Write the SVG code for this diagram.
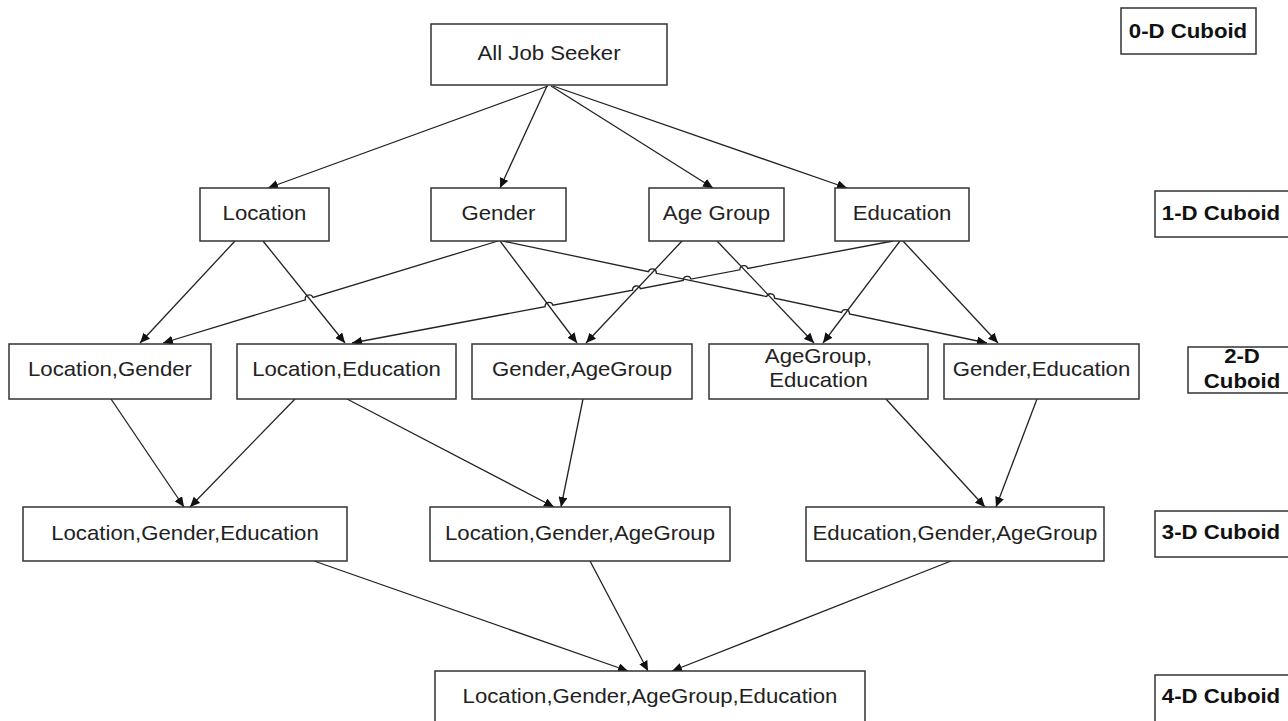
<svg xmlns="http://www.w3.org/2000/svg" width="1288" height="721" viewBox="0 0 1288 721">
  <style>
    .box { fill: #ffffff; stroke: #333333; stroke-width: 1.5; }
    .lbl { font-family: "Liberation Sans", Arial, sans-serif; font-size: 20px; fill: #222222; text-anchor: middle; }
    .cub { font-family: "Liberation Sans", Arial, sans-serif; font-size: 20px; font-weight: bold; fill: #111111; text-anchor: middle; }
    .edge { fill: none; stroke: #222222; stroke-width: 1.3; marker-end: url(#arr); }
  </style>
  <defs>
    <marker id="arr" markerWidth="11" markerHeight="9" refX="10" refY="4.5" orient="auto" markerUnits="userSpaceOnUse">
      <path d="M0,0 L10,4.5 L0,9 z" fill="#111111"/>
    </marker>
  </defs>
  <rect width="1288" height="721" fill="#ffffff"/>

  <!-- connectors (line jumps drawn as small arcs where lines cross) -->
  <g id="connectors">
    <!-- apex to 1-D -->
    <path class="edge" d="M548,86 L268,188"/>
    <path class="edge" d="M547,86 L500,188"/>
    <path class="edge" d="M551,86 L713,188"/>
    <path class="edge" d="M553,86 L847,188"/>
    <!-- 1-D to 2-D -->
    <path class="edge" d="M235,241 L140,343"/>
    <path class="edge" d="M263,241 L345,343"/>
    <path class="edge" d="M498,241 L313.0,297.4 A4,4 0 0 0 305.4,299.8 L163,343"/>
    <path class="edge" d="M500,241 L577,343"/>
    <path class="edge" d="M503,241 L648.5,271.7 A4,4 0 0 1 656.3,273.3 L766.7,296.6 A4,4 0 0 1 774.5,298.2 L841.6,312.4 A4,4 0 0 1 849.4,314.0 L987,343"/>
    <path class="edge" d="M682,241 L586,343"/>
    <path class="edge" d="M717,241 L814,343"/>
    <path class="edge" d="M893,241 L747.7,268.4 A4,4 0 0 0 739.9,269.8 L691.0,279.1 A4,4 0 0 0 683.2,280.5 L640.4,288.7 A4,4 0 0 0 632.6,290.1 L552.9,305.2 A4,4 0 0 0 545.1,306.6 L352,343"/>
    <path class="edge" d="M900,241 L823,343"/>
    <path class="edge" d="M903,241 L998,343"/>
    <!-- 2-D to 3-D -->
    <path class="edge" d="M111,399 L184,507"/>
    <path class="edge" d="M295,399 L190,507"/>
    <path class="edge" d="M347,399 L554,507"/>
    <path class="edge" d="M583,399 L561,507"/>
    <path class="edge" d="M886,399 L985,507"/>
    <path class="edge" d="M1037,399 L996,507"/>
    <!-- 3-D to 4-D -->
    <path class="edge" d="M314,561 L628,671"/>
    <path class="edge" d="M590,561 L648,671"/>
    <path class="edge" d="M951,561 L672,671"/>
  </g>

  <!-- apex -->
  <g id="all-job-seeker">
    <rect class="box" x="431" y="24" width="236" height="61"/>
    <text class="lbl" transform="translate(549 60) scale(1.11 1)">All Job Seeker</text>
  </g>

  <!-- 1-D cuboids -->
  <g id="location">
    <rect class="box" x="200" y="188" width="129" height="53"/>
    <text class="lbl" transform="translate(264.5 220) scale(1.11 1)">Location</text>
  </g>
  <g id="gender">
    <rect class="box" x="431" y="188" width="135" height="53"/>
    <text class="lbl" transform="translate(498.5 220) scale(1.11 1)">Gender</text>
  </g>
  <g id="age-group">
    <rect class="box" x="649" y="188" width="135" height="53"/>
    <text class="lbl" transform="translate(716.5 220) scale(1.11 1)">Age Group</text>
  </g>
  <g id="education">
    <rect class="box" x="835" y="188" width="134" height="53"/>
    <text class="lbl" transform="translate(902 220) scale(1.11 1)">Education</text>
  </g>

  <!-- 2-D cuboids -->
  <g id="location-gender">
    <rect class="box" x="9" y="344" width="202" height="55"/>
    <text class="lbl" transform="translate(110 376) scale(1.11 1)">Location,Gender</text>
  </g>
  <g id="location-education">
    <rect class="box" x="237" y="344" width="219" height="55"/>
    <text class="lbl" transform="translate(346.5 376) scale(1.11 1)">Location,Education</text>
  </g>
  <g id="gender-agegroup">
    <rect class="box" x="472" y="344" width="220" height="55"/>
    <text class="lbl" transform="translate(582 376) scale(1.11 1)">Gender,AgeGroup</text>
  </g>
  <g id="agegroup-education">
    <rect class="box" x="709" y="344" width="219" height="55"/>
    <text class="lbl" transform="translate(818.5 363) scale(1.11 1)">AgeGroup,</text>
    <text class="lbl" transform="translate(818.5 387) scale(1.11 1)">Education</text>
  </g>
  <g id="gender-education">
    <rect class="box" x="944" y="344" width="195" height="55"/>
    <text class="lbl" transform="translate(1041.5 376) scale(1.11 1)">Gender,Education</text>
  </g>

  <!-- 3-D cuboids -->
  <g id="location-gender-education">
    <rect class="box" x="23" y="507" width="324" height="54"/>
    <text class="lbl" transform="translate(185 540) scale(1.11 1)">Location,Gender,Education</text>
  </g>
  <g id="location-gender-agegroup">
    <rect class="box" x="430" y="507" width="300" height="54"/>
    <text class="lbl" transform="translate(580 540) scale(1.11 1)">Location,Gender,AgeGroup</text>
  </g>
  <g id="education-gender-agegroup">
    <rect class="box" x="806" y="507" width="298" height="54"/>
    <text class="lbl" transform="translate(955 540) scale(1.11 1)">Education,Gender,AgeGroup</text>
  </g>

  <!-- 4-D cuboid -->
  <g id="all-dimensions">
    <rect class="box" x="435" y="671" width="430" height="60"/>
    <text class="lbl" transform="translate(650 703) scale(1.11 1)">Location,Gender,AgeGroup,Education</text>
  </g>

  <!-- level labels -->
  <g id="label-0d">
    <rect class="box" x="1121" y="8" width="135" height="46"/>
    <text class="cub" transform="translate(1188 38) scale(1.11 1)">0-D Cuboid</text>
  </g>
  <g id="label-1d">
    <rect class="box" x="1155" y="191" width="140" height="46"/>
    <text class="cub" transform="translate(1221 220) scale(1.11 1)">1-D Cuboid</text>
  </g>
  <g id="label-2d">
    <rect class="box" x="1188" y="347" width="110" height="46"/>
    <text class="cub" transform="translate(1242 363) scale(1.11 1)">2-D</text>
    <text class="cub" transform="translate(1242 388) scale(1.11 1)">Cuboid</text>
  </g>
  <g id="label-3d">
    <rect class="box" x="1155" y="511" width="140" height="46"/>
    <text class="cub" transform="translate(1221 539) scale(1.11 1)">3-D Cuboid</text>
  </g>
  <g id="label-4d">
    <rect class="box" x="1155" y="675" width="140" height="56"/>
    <text class="cub" transform="translate(1221 703) scale(1.11 1)">4-D Cuboid</text>
  </g>
</svg>
